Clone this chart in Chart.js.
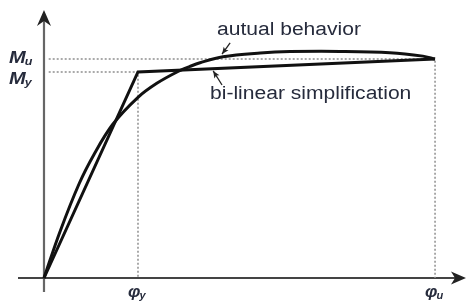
<!DOCTYPE html>
<html>
<head>
<meta charset="utf-8">
<script src="https://cdn.jsdelivr.net/npm/chart.js@4.4.1/dist/chart.umd.min.js"></script>
<style>
  html, body { margin: 0; padding: 0; background: #fff; }
  #wrap { width: 467px; height: 302px; }
</style>
</head>
<body>
<div id="wrap"><canvas id="mphiChart" width="467" height="302"></canvas></div>
<script>
// moment - curvature data (M_y = 1, phi_y = 1)
const actualPhi = [0, 0.17, 0.376, 0.532, 0.73, 1.0, 1.2, 1.415, 1.553, 1.66, 1.904, 2.3, 2.617, 3.15, 3.68, 4.03, 4.16];
const actualM   = [0, 0.225, 0.46, 0.6, 0.745, 0.877, 0.945, 1.0, 1.027, 1.045, 1.074, 1.092, 1.099, 1.1, 1.094, 1.077, 1.063];

const bilinearPhi = [0, 1, 4.16];
const bilinearM   = [0, 1, 1.063];

// tick values and labels
const phiTicks = [1, 4.16];
const phiTickSubs = ["y", "u"];
const mTicks = [1.063, 1];
const mTickSubs = ["u", "y"];

const actualLabel = "autual behavior";
const bilinearLabel = "bi-linear simplification";

const toPoints = (xs, ys) => xs.map((x, i) => ({ x: x, y: ys[i] }));

const textColor = "#262b3c";
const fontFam = "'Liberation Sans', Arial, sans-serif";

// where the notes sit (data units)
const notes = {
    actual:   { text: [1.84, 1.18],  tail: [1.98, 1.141], tip: [1.894, 1.087] },
    bilinear: { text: [1.766, 0.869], tail: [1.894, 0.937], tip: [1.80, 1.005] }
};

function arrowHead(ctx, x1, y1, x2, y2, len, half, notch) {
    const a = Math.atan2(y2 - y1, x2 - x1);
    const c = Math.cos(a), s = Math.sin(a);
    ctx.beginPath();
    ctx.moveTo(x2, y2);
    ctx.lineTo(x2 - len * c + half * s, y2 - len * s - half * c);
    ctx.lineTo(x2 - (len - notch) * c, y2 - (len - notch) * s);
    ctx.lineTo(x2 - len * c - half * s, y2 - len * s + half * c);
    ctx.closePath();
    ctx.fill();
}

// text a bit wider than the font, like the scan
function wideText(ctx, text, x, y, sx) {
    ctx.save();
    ctx.translate(x, y);
    ctx.scale(sx, 1);
    ctx.fillText(text, 0, 0);
    const w = ctx.measureText(text).width * sx;
    ctx.restore();
    return w;
}

function subLabel(ctx, main, sub, x, y, size, sx) {
    ctx.font = "bold italic " + size + "px " + fontFam;
    const w = wideText(ctx, main, x, y, sx);
    ctx.font = "bold italic " + Math.round(size * 0.65) + "px " + fontFam;
    wideText(ctx, sub, x + w - 1, y + 2, sx);
}

const axesPlugin = {
    id: "axesPlugin",
    beforeDatasetsDraw(chart) {
        const ctx = chart.ctx;
        const xs = chart.scales.x, ys = chart.scales.y;
        const area = chart.chartArea;
        const x0 = xs.getPixelForValue(0), y0 = ys.getPixelForValue(0);
        ctx.save();
        ctx.lineWidth = 2.2;
        // y axis
        ctx.strokeStyle = "#666";
        ctx.fillStyle = "#222";
        ctx.beginPath();
        ctx.moveTo(x0, area.bottom - 10);
        ctx.lineTo(x0, area.top + 18);
        ctx.stroke();
        arrowHead(ctx, x0, area.top + 40, x0, area.top + 10, 16, 7, 5);
        // x axis
        ctx.strokeStyle = "#444";
        ctx.beginPath();
        ctx.moveTo(area.left + 18, y0);
        ctx.lineTo(area.right - 10, y0);
        ctx.stroke();
        arrowHead(ctx, area.right - 40, y0, area.right - 1, y0, 15, 6.5, 4);
        ctx.restore();
    },
    afterDatasetsDraw(chart) {
        const ctx = chart.ctx;
        const xs = chart.scales.x, ys = chart.scales.y;
        const px = v => xs.getPixelForValue(v), py = v => ys.getPixelForValue(v);
        const x0 = px(0), y0 = py(0);
        ctx.save();
        ctx.fillStyle = textColor;
        ctx.textBaseline = "alphabetic";
        // phi tick labels
        phiTicks.forEach((v, i) => {
            subLabel(ctx, "φ", phiTickSubs[i], px(v) - 10, y0 + 19, 16, 1.1);
        });
        // M tick labels
        mTicks.forEach((v, i) => {
            subLabel(ctx, "M", mTickSubs[i], x0 - 35, py(v) + (i === 0 ? 4 : 12), 16, 1.25);
        });
        // notes
        ctx.font = "18px " + fontFam;
        wideText(ctx, actualLabel, px(notes.actual.text[0]), py(notes.actual.text[1]), 1.17);
        wideText(ctx, bilinearLabel, px(notes.bilinear.text[0]), py(notes.bilinear.text[1]), 1.17);
        ctx.strokeStyle = "#222";
        ctx.fillStyle = "#222";
        ctx.lineWidth = 1.3;
        [notes.actual, notes.bilinear].forEach(n => {
            const tx = px(n.tail[0]), ty = py(n.tail[1]);
            const hx = px(n.tip[0]), hy = py(n.tip[1]);
            ctx.beginPath();
            ctx.moveTo(tx, ty);
            ctx.lineTo(hx, hy);
            ctx.stroke();
            arrowHead(ctx, tx, ty, hx, hy, 7, 3, 1.5);
        });
        ctx.restore();
    }
};

const ctx = document.getElementById("mphiChart").getContext("2d");
new Chart(ctx, {
    type: "scatter",
    data: {
        datasets: [
            {
                label: actualLabel,
                data: toPoints(actualPhi, actualM),
                showLine: true,
                borderColor: "#111",
                borderWidth: 3,
                pointRadius: 0,
                tension: 0.35
            },
            {
                label: bilinearLabel,
                data: toPoints(bilinearPhi, bilinearM),
                showLine: true,
                borderColor: "#111",
                borderWidth: 3,
                pointRadius: 0,
                tension: 0,
                borderJoinStyle: "miter"
            },
            {
                label: "ultimate",
                data: [{ x: 0.05, y: mTicks[0] }, { x: phiTicks[1], y: mTicks[0] }, { x: phiTicks[1], y: 0 }],
                showLine: true,
                borderColor: "#8f8f8f",
                borderWidth: 1.5,
                borderDash: [2, 2],
                pointRadius: 0
            },
            {
                label: "yield",
                data: [{ x: 0.05, y: mTicks[1] }, { x: phiTicks[0], y: mTicks[1] }, { x: phiTicks[0], y: 0 }],
                showLine: true,
                borderColor: "#8f8f8f",
                borderWidth: 1.5,
                borderDash: [2, 2],
                pointRadius: 0
            }
        ]
    },
    options: {
        responsive: false,
        animation: false,
        layout: { padding: 0 },
        scales: {
            x: { type: "linear", min: -0.468, max: 4.5, display: false },
            y: { type: "linear", min: -0.1165, max: 1.3495, display: false }
        },
        plugins: {
            legend: { display: false },
            tooltip: { enabled: false }
        }
    },
    plugins: [axesPlugin]
});
</script>
</body>
</html>
